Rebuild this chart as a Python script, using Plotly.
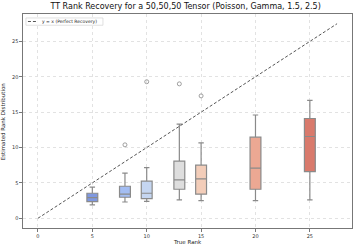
import plotly.graph_objects as go

true_ranks = [5, 8, 10, 13, 15, 20, 25]
q1 = [2.35, 2.97, 2.78, 4.1, 3.4, 4.1, 6.6]
medians = [2.92, 3.4, 3.54, 5.42, 5.57, 7.08, 11.56]
q3 = [3.54, 4.53, 5.24, 8.07, 7.5, 11.47, 14.1]
lower_whisker = [1.88, 2.3, 2.4, 2.59, 2.5, 2.5, 2.59]
upper_whisker = [4.39, 6.37, 7.17, 13.3, 10.67, 14.6, 16.66]
box_colors = ["#7f98e0", "#a3bdf3", "#c5d6f1", "#dedede", "#f3cdb9", "#eca893", "#d97a6c"]

outlier_x = [8, 10, 13, 15]
outlier_y = [10.38, 19.3, 19.0, 17.3]

line_x = [0, 27.5]
line_y = [0, 27.5]

tick_vals = [0, 5, 10, 15, 20, 25]
legend_label = "y = x (Perfect Recovery)"

fig = go.Figure()

fig.add_trace(go.Scatter(x=line_x, y=line_y, mode="lines",
                         line=dict(color="#555555", width=1, dash="3px,2px"),
                         name=legend_label, showlegend=False, hoverinfo="skip"))

for i, r in enumerate(true_ranks):
    fig.add_trace(go.Box(
        x=[r], q1=[q1[i]], median=[medians[i]], q3=[q3[i]],
        lowerfence=[lower_whisker[i]], upperfence=[upper_whisker[i]],
        width=1.0, fillcolor=box_colors[i],
        line=dict(color="#8a8a8a", width=1.2),
        whiskerwidth=0.5, boxpoints=False, showlegend=False,
    ))

fig.add_trace(go.Scatter(x=outlier_x, y=outlier_y, mode="markers",
                         marker=dict(symbol="circle-open", size=4, color="#888888",
                                     line=dict(width=0.8)),
                         showlegend=False))

axis_common = dict(
    range=[-1.375, 28.875], tickvals=tick_vals, showgrid=True,
    gridcolor="#e2e2e2", griddash="dot", gridwidth=0.8,
    showline=True, linecolor="#777777", linewidth=1.2, mirror=True,
    ticks="outside", ticklen=2.5, tickcolor="#777777", tickwidth=0.8,
    tickfont=dict(size=5, color="#333333", family="DejaVu Sans"),
    zeroline=False, automargin=False,
)

fig.update_layout(
    width=357, height=250,
    margin=dict(l=23, r=5, t=14, b=22, autoexpand=False),
    plot_bgcolor="white", paper_bgcolor="white",
    title=dict(text="TT Rank Recovery for a 50,50,50 Tensor (Poisson, Gamma, 1.5, 2.5)",
               x=0.52, xanchor="center", y=0.985, yanchor="top",
               font=dict(size=8, color="#111111", family="DejaVu Sans")),
    xaxis=axis_common,
    yaxis=axis_common,
    showlegend=False,
    boxmode="overlay",
)

# axis titles
fig.add_annotation(text="True Rank", xref="paper", yref="paper", x=0.5, y=-0.064,
                   xanchor="center", yanchor="middle", showarrow=False,
                   font=dict(size=5.5, color="#222222", family="DejaVu Sans"))
fig.add_annotation(text="Estimated Rank Distribution", xref="paper", yref="paper",
                   x=-0.06, y=0.5, xanchor="center", yanchor="middle", textangle=-90,
                   showarrow=False, font=dict(size=5.5, color="#222222", family="DejaVu Sans"))

# legend box (matplotlib-style)
fig.add_shape(type="rect", xref="paper", yref="paper", x0=0.009, x1=0.243, y0=0.9475, y1=0.9815,
              line=dict(color="#cccccc", width=0.6), fillcolor="rgba(255,255,255,0.85)", layer="above")
fig.add_shape(type="line", xref="paper", yref="paper", x0=0.015, x1=0.043, y0=0.965, y1=0.965,
              line=dict(color="#555555", width=1, dash="3px,2px"), layer="above")
fig.add_annotation(text=legend_label, xref="paper", yref="paper", x=0.053, y=0.965,
                   xanchor="left", yanchor="middle", showarrow=False,
                   font=dict(size=4.5, color="#222222", family="DejaVu Sans"))

fig.write_html("out.html",
               config={"displayModeBar": False},
               post_script="document.body.style.margin='0';document.body.style.padding='0';")
